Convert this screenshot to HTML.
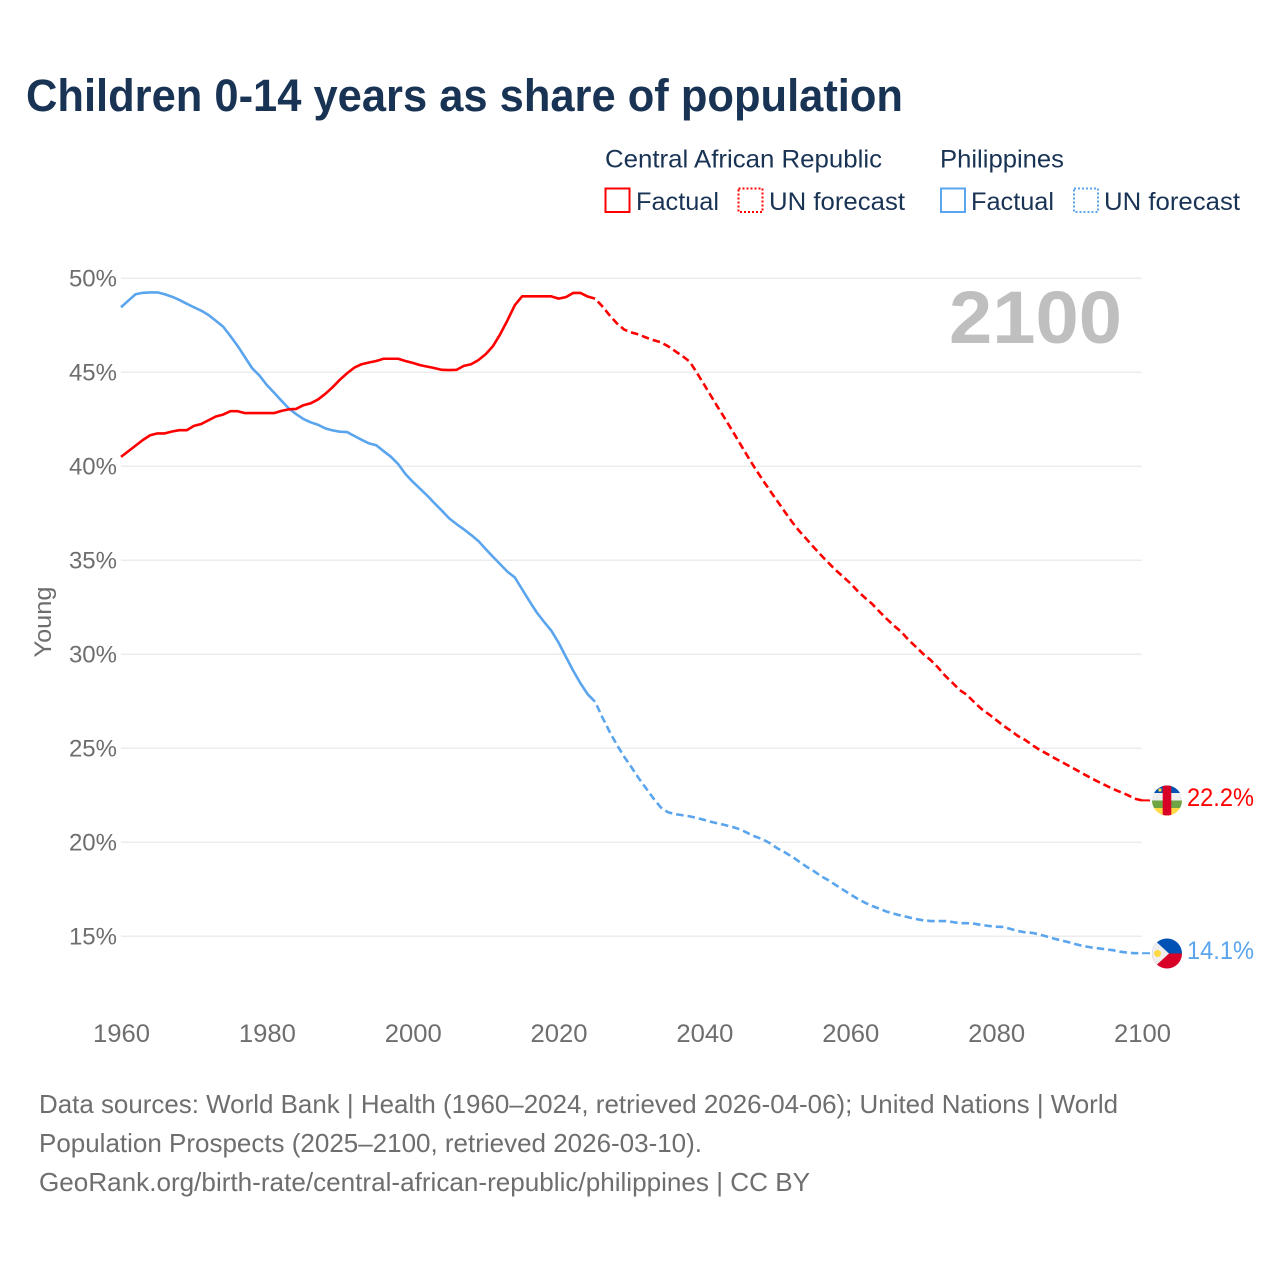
<!DOCTYPE html>
<html lang="en">
<head>
<meta charset="utf-8">
<title>Children 0-14 years as share of population</title>
<style>
html,body{margin:0;padding:0;background:#fff;}
svg{display:block;}
text{font-family:"Liberation Sans",sans-serif;}
</style>
</head>
<body>
<svg id="chart" xmlns="http://www.w3.org/2000/svg" width="1280" height="1280" viewBox="0 0 1280 1280">
  <rect x="0" y="0" width="1280" height="1280" fill="#ffffff"/>
  <text x="26" y="111" font-size="45" font-weight="700" fill="#193354" textLength="877" lengthAdjust="spacingAndGlyphs">Children 0-14 years as share of population</text>

  <g font-size="25" fill="#193354">
    <text x="605" y="167.5" textLength="277" lengthAdjust="spacingAndGlyphs">Central African Republic</text>
    <text x="940" y="167.5" textLength="124" lengthAdjust="spacingAndGlyphs">Philippines</text>
    <rect x="605.5" y="188.5" width="24" height="23.5" fill="none" stroke="#ff0000" stroke-width="2"/>
    <text x="636" y="210" textLength="83" lengthAdjust="spacingAndGlyphs">Factual</text>
    <rect x="738.5" y="188.5" width="24" height="23.5" fill="none" stroke="#ff0000" stroke-width="2" stroke-dasharray="2 2"/>
    <text x="769" y="210" textLength="136" lengthAdjust="spacingAndGlyphs">UN forecast</text>
    <rect x="941" y="188.5" width="24" height="23.5" fill="none" stroke="#5aa5ed" stroke-width="2"/>
    <text x="971" y="210" textLength="83" lengthAdjust="spacingAndGlyphs">Factual</text>
    <rect x="1074" y="188.5" width="24" height="23.5" fill="none" stroke="#5aa5ed" stroke-width="2" stroke-dasharray="2 2"/>
    <text x="1104" y="210" textLength="136" lengthAdjust="spacingAndGlyphs">UN forecast</text>
  </g>

  <g id="grid"></g>
  <g id="y-ticks"></g>
  <g id="x-ticks"></g>
  <text transform="translate(51,622) rotate(-90)" text-anchor="middle" font-size="24" fill="#6e6e6e" textLength="71" lengthAdjust="spacingAndGlyphs">Young</text>
  <text x="949" y="343" font-size="74" font-weight="700" fill="#bfbfbf" textLength="173" lengthAdjust="spacingAndGlyphs">2100</text>

  <g id="series"></g>

  <defs>
    <clipPath id="car-clip"><circle cx="1167" cy="800.5" r="15"/></clipPath>
    <clipPath id="ph-clip"><circle cx="1167" cy="953.5" r="15"/></clipPath>
  </defs>
  <g clip-path="url(#car-clip)">
    <rect x="1150" y="784" width="34" height="9" fill="#0052b4"/>
    <rect x="1150" y="793" width="34" height="7.5" fill="#eeeeee"/>
    <rect x="1150" y="800.5" width="34" height="7.5" fill="#6da544"/>
    <rect x="1150" y="808" width="34" height="9" fill="#ffda44"/>
    <rect x="1162.7" y="784" width="8.6" height="33" fill="#d80027"/>
    <rect x="1158.5" y="788.5" width="3" height="3" fill="#ffda44"/>
  </g>
  <g clip-path="url(#ph-clip)">
    <rect x="1150" y="937" width="34" height="16.5" fill="#0052b4"/>
    <rect x="1150" y="953.5" width="34" height="17" fill="#d80027"/>
    <polygon points="1150,936 1169,953.5 1150,971" fill="#eeeeee"/>
    <circle cx="1157.5" cy="953.5" r="3.5" fill="#ffda44"/>
  </g>
  <text x="1187" y="806" font-size="25" fill="#ff0000" textLength="67" lengthAdjust="spacingAndGlyphs">22.2%</text>
  <text x="1187" y="959" font-size="25" fill="#5aa5ed" textLength="67" lengthAdjust="spacingAndGlyphs">14.1%</text>

  <g font-size="26" fill="#6e6e6e">
    <text x="39" y="1113" textLength="1079" lengthAdjust="spacingAndGlyphs">Data sources: World Bank | Health (1960–2024, retrieved 2026-04-06); United Nations | World</text>
    <text x="39" y="1152" textLength="663" lengthAdjust="spacingAndGlyphs">Population Prospects (2025–2100, retrieved 2026-03-10).</text>
    <text x="39" y="1191" textLength="771" lengthAdjust="spacingAndGlyphs">GeoRank.org/birth-rate/central-african-republic/philippines | CC BY</text>
  </g>
</svg>
<script>
const yTickValues = [50, 45, 40, 35, 30, 25, 20, 15];
const xTickYears = [1960, 1980, 2000, 2020, 2040, 2060, 2080, 2100];
const firstFactualYear = 1960;
const firstForecastYear = 2025;

// Central African Republic, 1960-2025
const carFactual = [40.5,40.8,41.1,41.4,41.65,41.75,41.75,41.85,41.92,41.92,42.15,42.25,42.45,42.65,42.75,42.93,42.93,42.83,42.83,42.83,42.83,42.83,42.95,43.03,43.05,43.25,43.35,43.55,43.85,44.2,44.6,44.95,45.25,45.43,45.52,45.6,45.72,45.72,45.72,45.6,45.5,45.38,45.3,45.22,45.13,45.12,45.13,45.34,45.43,45.65,45.96,46.39,47.03,47.77,48.57,49.04,49.04,49.04,49.04,49.04,48.92,49.0,49.22,49.22,49.03,48.92];
// Central African Republic, 2025-2100
const carForecast = [48.92,48.51,48.03,47.6,47.27,47.12,47.01,46.85,46.71,46.6,46.39,46.12,45.86,45.56,44.95,44.32,43.68,43.04,42.42,41.78,41.13,40.48,39.86,39.27,38.7,38.15,37.59,37.05,36.56,36.13,35.69,35.27,34.87,34.48,34.13,33.78,33.37,33.01,32.68,32.27,31.88,31.52,31.19,30.76,30.4,30.02,29.7,29.31,28.86,28.49,28.1,27.84,27.45,27.09,26.81,26.51,26.2,25.94,25.65,25.44,25.16,24.91,24.7,24.48,24.27,24.06,23.85,23.63,23.42,23.22,23.03,22.84,22.68,22.52,22.32,22.23];
// Philippines, 1960-2025
const phFactual = [48.46,48.81,49.15,49.23,49.25,49.25,49.15,49.02,48.85,48.65,48.46,48.28,48.05,47.74,47.43,46.93,46.4,45.8,45.21,44.82,44.32,43.91,43.49,43.08,42.78,42.52,42.34,42.21,42.02,41.91,41.84,41.82,41.61,41.41,41.22,41.12,40.81,40.51,40.12,39.59,39.18,38.81,38.44,38.03,37.64,37.23,36.93,36.65,36.35,36.03,35.6,35.19,34.79,34.39,34.09,33.46,32.83,32.23,31.73,31.26,30.62,29.87,29.13,28.46,27.87,27.48];
// Philippines, 2025-2100
const phForecast = [27.48,26.65,25.88,25.18,24.55,23.99,23.4,22.87,22.34,21.86,21.6,21.5,21.44,21.38,21.29,21.19,21.08,20.99,20.9,20.8,20.67,20.48,20.3,20.16,19.95,19.68,19.47,19.24,18.97,18.7,18.47,18.2,17.98,17.73,17.48,17.23,17.0,16.79,16.61,16.47,16.31,16.2,16.1,16.01,15.92,15.85,15.81,15.81,15.81,15.76,15.7,15.7,15.67,15.6,15.55,15.51,15.5,15.39,15.28,15.21,15.18,15.09,14.98,14.87,14.77,14.68,14.57,14.48,14.41,14.36,14.31,14.26,14.18,14.13,14.1,14.1];

const SVG_NS = 'http://www.w3.org/2000/svg';
const RED = '#ff0000';
const BLUE = '#5aa5ed';
const PLOT_LEFT = 121;
const PLOT_RIGHT = 1142;
const TOP_VALUE_Y = 278.3;
const PX_PER_PERCENT = 18.8;

function xScale(year) {
  return PLOT_LEFT + (year - 1960) * (PLOT_RIGHT - PLOT_LEFT) / 140;
}
function yScale(value) {
  return TOP_VALUE_Y + (50 - value) * PX_PER_PERCENT;
}
function linePoints(values, startYear) {
  return values.map(function (v, i) {
    return xScale(startYear + i).toFixed(2) + ',' + yScale(v).toFixed(2);
  }).join(' ');
}

const gridGroup = document.getElementById('grid');
const yTickGroup = document.getElementById('y-ticks');
const xTickGroup = document.getElementById('x-ticks');
const seriesGroup = document.getElementById('series');

yTickValues.forEach(function (v) {
  const line = document.createElementNS(SVG_NS, 'line');
  
  
  line.setAttribute('x1', PLOT_LEFT);
  line.setAttribute('x2', PLOT_RIGHT);
  line.setAttribute('y1', yScale(v));
  line.setAttribute('y2', yScale(v));
  line.setAttribute('stroke', '#ececec');
  line.setAttribute('stroke-width', '1.5');
  gridGroup.appendChild(line);

  const label = document.createElementNS(SVG_NS, 'text');
  
  
  label.setAttribute('x', 117);
  label.setAttribute('y', yScale(v) + 8);
  label.setAttribute('text-anchor', 'end');
  label.setAttribute('font-size', '24');
  label.setAttribute('fill', '#6e6e6e');
  label.textContent = v + '%';
  yTickGroup.appendChild(label);
});

xTickYears.forEach(function (year) {
  const label = document.createElementNS(SVG_NS, 'text');
  
  
  label.setAttribute('x', xScale(year) + 0.5);
  label.setAttribute('y', 1042);
  label.setAttribute('text-anchor', 'middle');
  label.setAttribute('font-size', '25');
  label.setAttribute('fill', '#6e6e6e');
  label.setAttribute('textLength', '57');
  label.setAttribute('lengthAdjust', 'spacingAndGlyphs');
  label.textContent = year;
  xTickGroup.appendChild(label);
});

function addSeriesLine(points, color, dashed, name) {
  const el = document.createElementNS(SVG_NS, 'polyline');
  
  
  el.setAttribute('points', points);
  el.setAttribute('fill', 'none');
  el.setAttribute('stroke', color);
  el.setAttribute('stroke-width', '2.6');
  el.setAttribute('stroke-linejoin', 'round');
  if (dashed) {
    el.setAttribute('stroke-dasharray', '7.5 4');
    el.setAttribute('stroke-dashoffset', '7.5');
  }
  seriesGroup.appendChild(el);
}

function addConnector(lastValue, color, name) {
  const el = document.createElementNS(SVG_NS, 'line');
  
  
  el.setAttribute('x1', xScale(2100));
  el.setAttribute('x2', xScale(2100) + 8);
  el.setAttribute('y1', yScale(lastValue));
  el.setAttribute('y2', yScale(lastValue));
  el.setAttribute('stroke', color);
  el.setAttribute('stroke-width', '2');
  seriesGroup.appendChild(el);
}

addSeriesLine(linePoints(phFactual, firstFactualYear), BLUE, false, 'philippines-factual-line');
addSeriesLine(linePoints(phForecast, firstForecastYear), BLUE, true, 'philippines-forecast-line');
addSeriesLine(linePoints(carFactual, firstFactualYear), RED, false, 'car-factual-line');
addSeriesLine(linePoints(carForecast, firstForecastYear), RED, true, 'car-forecast-line');
addConnector(carForecast[carForecast.length - 1], RED, 'car-end-connector');
addConnector(phForecast[phForecast.length - 1], BLUE, 'philippines-end-connector');
</script>
</body>
</html>
